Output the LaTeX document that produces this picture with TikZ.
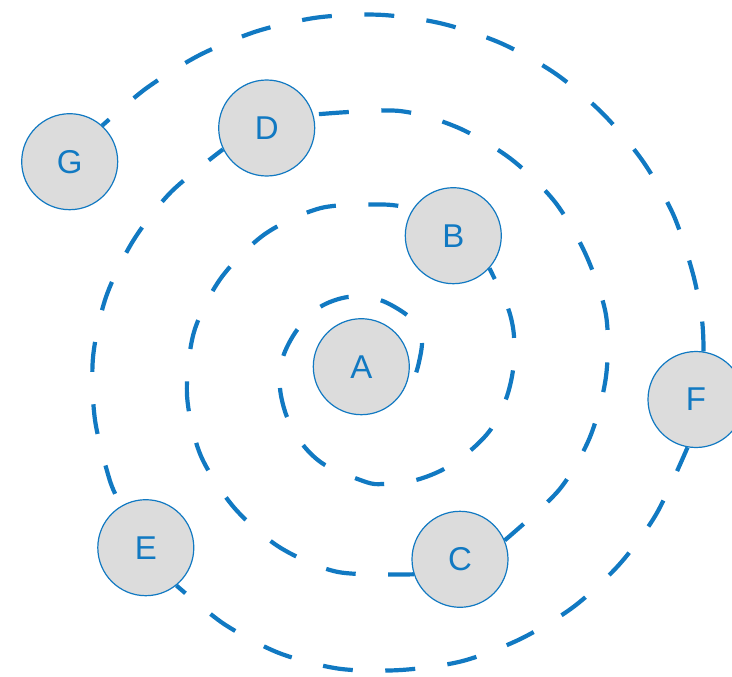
\documentclass[tikz,border=0pt]{standalone}
\usepackage{fontspec}
\setmainfont{Liberation Sans}
\definecolor{spiralblue}{RGB}{17,121,194}
\definecolor{nodegray}{RGB}{220,220,220}
\begin{document}
\begin{tikzpicture}[x=1pt,y=-1pt,
  station/.style={circle, draw=spiralblue, line width=1.2pt, fill=nodegray,
    minimum size=96pt, inner sep=0pt, text=spiralblue,
    font=\fontsize{33}{33}\selectfont},
  turn/.style={draw=spiralblue, line width=4.2pt,
    dash pattern=on 30pt off 32.5pt}]
\useasboundingbox (0,0) rectangle (732,677);
\clip (0,0) rectangle (732,677);

% stations along the spiral
\node[station] (A) at (361.3,366.7) {A};
\node[station] (B) at (453.3,235.7) {B};
\node[station] (C) at (460,559.3) {C};
\node[station] (D) at (266.7,128) {D};
\node[station] (E) at (145.8,547.7) {E};
\node[station] (F) at (696,399.5) {F};
\node[station] (G) at (69.7,161.7) {G};

% spiral turns, station to station
\draw[turn, dash phase=48] plot[smooth] coordinates {(A.-20) (416,373) (422,344)
  (417,329) (407,315) (380,300) (348,297) (320,307) (297,330) (283,357)
  (280,388) (287,417) (303,445) (325,465) (366,482) (383,484) (416,480)
  (444,469) (471,450) (491,429) (506,399) (513,370) (514,336) (508,308)
  (B.-42)};
\draw[turn, dash phase=47.5] plot[smooth] coordinates {(B.146) (383,204.5)
  (321,208) (265,234) (221,278) (194,332) (187,395) (200.5,455) (234,507.5)
  (280,547.5) (338,572) (C.198)};
\draw[turn, dash phase=5] plot[smooth] coordinates {(C.23) (559,490) (590,437)
  (606,376.5) (606,315) (586,255) (555,202) (511,159) (457.7,127.5)
  (397.7,110.8) (D.16)};
\draw[turn, dash phase=12] plot[smooth] coordinates {(D.206) (171,192) (133,241)
  (106,297) (93,357.5) (95,420) (110,481) (E.120)};
\draw[turn, dash phase=18] plot[smooth] coordinates {(E.-51) (224,624) (279,653)
  (339,668.7) (401,670) (462.7,661) (521,638.7) (574,606.5) (619.7,564)
  (656.5,513.7) (F.-100)};
\draw[turn, dash phase=0] plot[smooth] coordinates {(F.81) (702,320) (693,274)
  (673.5,215) (642.7,161) (602.5,113.3) (555,73.3) (500.5,43) (440.7,23.3)
  (380,14.8) (317.5,17.5) (256.7,31.3) (198.7,55.5) (146,88.5) (G.48)};
\end{tikzpicture}
\end{document}
